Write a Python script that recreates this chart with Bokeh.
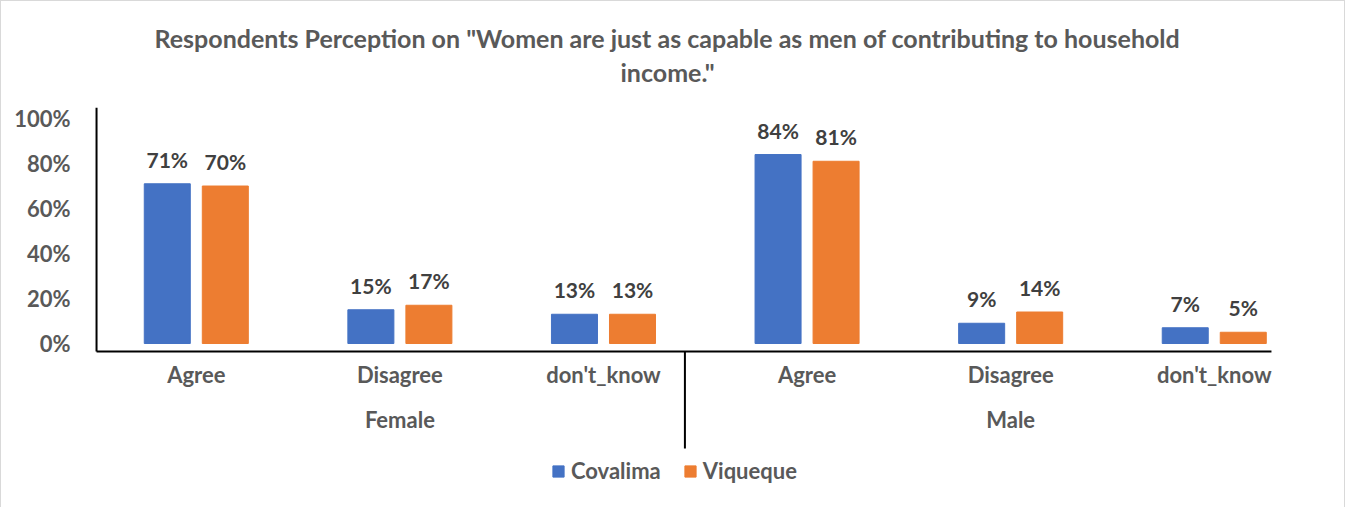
from bokeh.plotting import figure
from bokeh.models import (Range1d, FixedTicker, Legend, LegendItem, ColumnDataSource, Title)
from bokeh.core.properties import value
from bokeh.embed import file_html
from bokeh.resources import INLINE

# ---- data ----
groups = ["Female", "Female", "Female", "Male", "Male", "Male"]
responses = ["Agree", "Disagree", "don't_know", "Agree", "Disagree", "don't_know"]
covalima = [71, 15, 13, 84, 9, 7]
viqueque = [70, 17, 13, 81, 14, 5]
group_names = ["Female", "Male"]
y_ticks = [0, 20, 40, 60, 80, 100]
series = ["Covalima", "Viqueque"]
colors = ["#4472C4", "#ED7D31"]
title_lines = ['Respondents Perception on "Women are just as capable as men of contributing to household',
               'income."']

FONT = "Lato"
GRAY = "#595959"
DARK = "#404040"
FS = "22px"

pos = list(range(len(responses)))
gpos = [1, 4]          # centre of each group
sep_x = 2.4            # group separator position
off = 0.1425
bw = 0.226
X0, X1 = -0.5, 5.291
Y0, Y1 = -69.78, 104.9
AX_Y = -3.56           # where the category axis line sits
AX_X = -0.49

src = ColumnDataSource(dict(
    x_c=[p_ - off for p_ in pos], x_v=[p_ + off for p_ in pos],
    cov=covalima, viq=viqueque,
    cov_lbl=[f"{v}%" for v in covalima], viq_lbl=[f"{v}%" for v in viqueque],
))
cat_src = ColumnDataSource(dict(x=pos, y=[AX_Y] * len(pos), t=responses))
grp_src = ColumnDataSource(dict(x=gpos, y=[AX_Y] * len(gpos), t=group_names))

p = figure(frame_width=1179, frame_height=393, output_backend="svg", toolbar_location=None,
           x_range=Range1d(X0, X1), y_range=Range1d(Y0, Y1), x_axis_location=None,
           min_border_left=93, min_border_right=71, min_border_top=106, min_border_bottom=7)
p.grid.visible = False
p.outline_line_color = None
p.styles = {"border-left": "1px solid #D9D9D9", "border-top": "1px solid #D9D9D9",
            "border-right": "1px solid #D9D9D9"}

r1 = p.vbar(x="x_c", top="cov", bottom=0, width=bw, color=colors[0], source=src)
r2 = p.vbar(x="x_v", top="viq", bottom=0, width=bw, color=colors[1], source=src)

for xcol, ycol, tcol in [("x_c", "cov", "cov_lbl"), ("x_v", "viq", "viq_lbl")]:
    p.text(x=xcol, y=ycol, text=tcol, source=src, text_align="center", text_baseline="bottom",
           y_offset=-12, text_font=value(FONT), text_font_style="bold",
           text_font_size="21px", text_color=DARK)

# axis lines
p.segment(x0=[AX_X], y0=[AX_Y], x1=[AX_X], y1=[Y1], line_color="black", line_width=2)
p.segment(x0=[AX_X], y0=[AX_Y], x1=[X1 - 0.01], y1=[AX_Y], line_color="black", line_width=2)
# group separator
p.segment(x0=[sep_x], y0=[AX_Y], x1=[sep_x], y1=[AX_Y - 43.1], line_color="black", line_width=2)

# category and group labels
p.text(x="x", y="y", text="t", source=cat_src, text_align="center", text_baseline="middle",
       y_offset=23, text_font=value(FONT), text_font_style="bold", text_font_size=FS,
       text_color=GRAY)
p.text(x="x", y="y", text="t", source=grp_src, text_align="center", text_baseline="middle",
       y_offset=68, text_font=value(FONT), text_font_style="bold", text_font_size=FS,
       text_color=GRAY)

# title (two lines)
p.title.text = title_lines[0]
p.title.align = "left"
p.title.offset = 60
p.title.text_font = FONT
p.title.text_font_size = "25px"
p.title.text_font_style = "bold"
p.title.text_color = GRAY
p.title.standoff = -38
t2 = Title(text=title_lines[1], align="left", offset=526, text_font=FONT, text_font_size="25px",
           text_font_style="bold", text_color=GRAY, standoff=42)
p.add_layout(t2, "above")

# y axis
ya = p.yaxis[0]
ya.ticker = FixedTicker(ticks=y_ticks)
ya.major_label_overrides = {t: f"{t}%" for t in y_ticks}
ya.axis_line_color = None
ya.major_tick_line_color = None
ya.minor_tick_line_color = None
ya.major_tick_out = 0
ya.major_tick_in = 0
ya.major_label_standoff = 24
ya.major_label_text_font = FONT
ya.major_label_text_font_size = FS
ya.major_label_text_font_style = "bold"
ya.major_label_text_color = GRAY

legend = Legend(items=[LegendItem(label=series[0], renderers=[r1]),
                       LegendItem(label=series[1], renderers=[r2])],
                orientation="horizontal", location=(457, 16))
legend.label_text_font = FONT
legend.label_text_font_size = FS
legend.label_text_font_style = "bold"
legend.label_text_color = GRAY
legend.glyph_width = 14
legend.glyph_height = 14
legend.label_standoff = 6
legend.spacing = 22
legend.border_line_color = None
legend.background_fill_alpha = 0
legend.padding = 4
legend.margin = 0
p.add_layout(legend, "center")

open("out.html", "w").write(file_html(p, INLINE))
